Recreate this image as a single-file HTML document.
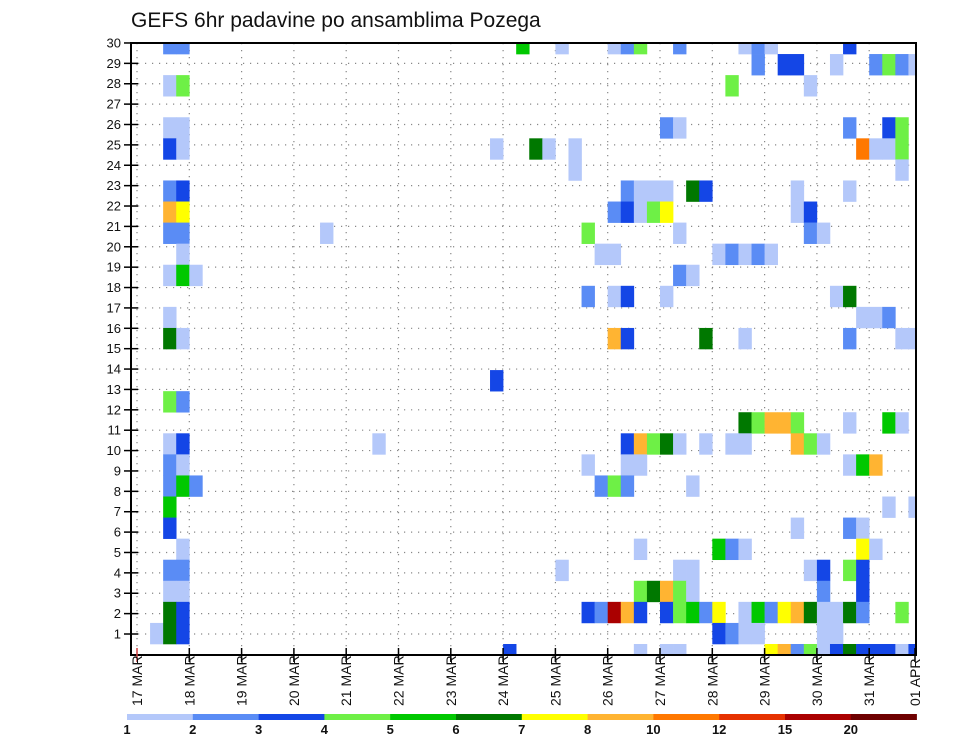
<!DOCTYPE html>
<html><head><meta charset="utf-8">
<style>
html,body{margin:0;padding:0;background:#fff;}
svg{display:block;font-family:"Liberation Sans",sans-serif;}
</style></head>
<body>
<svg id="chart" width="960" height="742" viewBox="0 0 960 742" xmlns="http://www.w3.org/2000/svg">
<defs><clipPath id="plotclip"><rect x="131" y="43" width="785" height="612"/></clipPath></defs>
<text x="131" y="27" font-size="21" fill="#111">GEFS 6hr padavine po ansamblima Pozega</text>
<g id="grid"></g>
<g id="cells" clip-path="url(#plotclip)"></g>
<rect x="131" y="43" width="785" height="612" fill="none" stroke="#000" stroke-width="2"/>
<g id="yaxis"></g>
<g id="xaxis"></g>
<g id="legend"></g>
</svg>
<script>
// data
const dayLabels = ["17 MAR","18 MAR","19 MAR","20 MAR","21 MAR","22 MAR","23 MAR","24 MAR","25 MAR","26 MAR","27 MAR","28 MAR","29 MAR","30 MAR","31 MAR","01 APR"];
const memberLabels = [1,2,3,4,5,6,7,8,9,10,11,12,13,14,15,16,17,18,19,20,21,22,23,24,25,26,27,28,29,30];
const levels = [1,2,3,4,5,6,7,8,10,12,15,20];
const levelColors = ["#b4c8fa","#5a8cf5","#1446e6","#6ef046","#00c800","#007800","#ffff00","#ffb432","#ff7800","#e63200","#aa0000","#6e0000"];
// [member row, 6h step, precip mm]
const cells = [
[29,2,2.5],[29,3,2.5],[29,29,5.5],[29,32,1.5],[29,36,1.5],[29,37,2.5],[29,38,4.5],[29,41,2.5],[29,46,1.5],[29,47,2.5],[29,48,1.5],[29,54,3.5],
[28,47,2.5],[28,49,3.5],[28,50,3.5],[28,53,1.5],[28,56,2.5],[28,57,4.5],[28,58,2.5],[28,59,1.5],
[27,2,1.5],[27,3,4.5],[27,45,4.5],[27,51,1.5],
[25,2,1.5],[25,3,1.5],[25,40,2.5],[25,41,1.5],[25,54,2.5],[25,57,3.5],[25,58,4.5],
[24,2,3.5],[24,3,1.5],[24,27,1.5],[24,30,6.5],[24,31,1.5],[24,33,1.5],[24,55,11],[24,56,1.5],[24,57,1.5],[24,58,4.5],
[23,33,1.5],[23,58,1.5],
[22,2,2.5],[22,3,3.5],[22,37,2.5],[22,38,1.5],[22,39,1.5],[22,40,1.5],[22,42,6.5],[22,43,3.5],[22,50,1.5],[22,54,1.5],
[21,2,9],[21,3,7.5],[21,36,2.5],[21,37,3.5],[21,38,1.5],[21,39,4.5],[21,40,7.5],[21,50,1.5],[21,51,3.5],
[20,2,2.5],[20,3,2.5],[20,14,1.5],[20,34,4.5],[20,41,1.5],[20,51,2.5],[20,52,1.5],
[19,3,1.5],[19,35,1.5],[19,36,1.5],[19,44,1.5],[19,45,2.5],[19,46,1.5],[19,47,2.5],[19,48,1.5],
[18,2,1.5],[18,3,5.5],[18,4,1.5],[18,41,2.5],[18,42,1.5],
[17,34,2.5],[17,36,1.5],[17,37,3.5],[17,40,1.5],[17,53,1.5],[17,54,6.5],
[16,2,1.5],[16,55,1.5],[16,56,1.5],[16,57,2.5],
[15,2,6.5],[15,3,1.5],[15,36,9],[15,37,3.5],[15,43,6.5],[15,46,1.5],[15,54,2.5],[15,58,1.5],[15,59,1.5],
[13,27,3.5],
[12,2,4.5],[12,3,2.5],
[11,46,6.5],[11,47,4.5],[11,48,9],[11,49,9],[11,50,4.5],[11,54,1.5],[11,57,5.5],[11,58,1.5],
[10,2,1.5],[10,3,3.5],[10,18,1.5],[10,37,3.5],[10,38,9],[10,39,4.5],[10,40,6.5],[10,41,1.5],[10,43,1.5],[10,45,1.5],[10,46,1.5],[10,50,9],[10,51,4.5],[10,52,1.5],
[9,2,2.5],[9,3,1.5],[9,34,1.5],[9,37,1.5],[9,38,1.5],[9,54,1.5],[9,55,5.5],[9,56,9],
[8,2,2.5],[8,3,5.5],[8,4,2.5],[8,35,2.5],[8,36,4.5],[8,37,2.5],[8,42,1.5],
[7,2,5.5],[7,57,1.5],[7,59,1.5],
[6,2,3.5],[6,50,1.5],[6,54,2.5],[6,55,1.5],
[5,3,1.5],[5,38,1.5],[5,44,5.5],[5,45,2.5],[5,46,1.5],[5,55,7.5],[5,56,1.5],
[4,2,2.5],[4,3,2.5],[4,32,1.5],[4,41,1.5],[4,42,1.5],[4,51,1.5],[4,52,3.5],[4,54,4.5],[4,55,3.5],
[3,2,1.5],[3,3,1.5],[3,38,4.5],[3,39,6.5],[3,40,9],[3,41,4.5],[3,42,1.5],[3,52,2.5],[3,55,3.5],
[2,2,6.5],[2,3,3.5],[2,34,3.5],[2,35,2.5],[2,36,17],[2,37,9],[2,38,3.5],[2,40,3.5],[2,41,4.5],[2,42,5.5],[2,43,2.5],[2,44,7.5],[2,46,1.5],[2,47,5.5],[2,48,2.5],[2,49,7.5],[2,50,9],[2,51,6.5],[2,52,1.5],[2,53,1.5],[2,54,6.5],[2,55,2.5],[2,58,4.5],
[1,1,1.5],[1,2,6.5],[1,3,3.5],[1,44,3.5],[1,45,2.5],[1,46,1.5],[1,47,1.5],[1,52,1.5],[1,53,1.5],
[0,28,3.5],[0,38,1.5],[0,40,1.5],[0,41,1.5],[0,48,7.5],[0,49,9],[0,50,2.5],[0,51,4.5],[0,52,1.5],[0,53,3.5],[0,54,6.5],[0,55,3.5],[0,56,3.5],[0,57,3.5],[0,58,1.5],[0,59,3.5]
];

const NS="http://www.w3.org/2000/svg";
const X0=137, DAY=52.3, STEP=DAY/4;
const CELLB=644, CELLH=21.07;
function xDay(d){return X0+d*DAY;}
function xStep(c){return X0+c*STEP;}
function yCellTop(k){return CELLB-k*CELLH;}
function yMember(m){return 634-(m-1)*20.38;}
function colorOf(v){let i=0;for(let j=0;j<levels.length;j++){if(v>=levels[j])i=j;}return levelColors[i];}
function mk(tag,attrs,parent){const e=document.createElementNS(NS,tag);for(const k in attrs)e.setAttribute(k,attrs[k]);parent.appendChild(e);return e;}

const grid=document.getElementById('grid');
memberLabels.forEach(m=>{
  const y=yMember(m);
  const l=mk('line',{x1:131,x2:916,y1:y,y2:y,stroke:'#888','stroke-width':1.2,'stroke-dasharray':'1.2 5.8'},grid);
  
  
});
dayLabels.forEach((d,i)=>{
  const x=xDay(i); if(x>916) return;
  const l=mk('line',{x1:x,x2:x,y1:43,y2:655,stroke:'#888','stroke-width':1.2,'stroke-dasharray':'1.2 5.8'},grid);
  
  
});

const cg=document.getElementById('cells');
cells.forEach(([k,c,v])=>{
  const r=mk('rect',{x:xStep(c),y:yCellTop(k),width:STEP+0.3,height:CELLH+0.3,fill:colorOf(v)},cg);
  
  
});

const ya=document.getElementById('yaxis');
memberLabels.forEach(m=>{
  const y=yMember(m);
  const t=mk('line',{x1:124,x2:138,y1:y,y2:y,stroke:'#000','stroke-width':1.5},ya);
  
  
  const tx=mk('text',{x:121,y:y+4.5,'font-size':13,'text-anchor':'end',fill:'#111'},ya);
  tx.textContent=m;
  
  
});

const xa=document.getElementById('xaxis');
dayLabels.forEach((d,i)=>{
  const x=xDay(i); const xx=Math.min(x,915);
  const t=mk('line',{x1:xx,x2:xx,y1:648,y2:662,stroke:i===0?'#d04040':'#000','stroke-width':1.5},xa);
  
  
  const tx=mk('text',{x:0,y:0,'font-size':14,'text-anchor':'start',fill:'#111',transform:`translate(${xx+5},706) rotate(-90)`},xa);
  tx.textContent=d;
  
  
});

const lg=document.getElementById('legend');
const LX=127, LW=65.8;
levelColors.forEach((c,i)=>{
  const r=mk('rect',{x:LX+i*LW,y:714,width:LW+0.3,height:6,fill:c},lg);
  
  
});
levels.forEach((v,i)=>{
  const tx=mk('text',{x:LX+i*LW,y:734,'font-size':13,'font-weight':'bold','text-anchor':'middle',fill:'#111'},lg);
  tx.textContent=v;
  
  
});
</script>
</body></html>
